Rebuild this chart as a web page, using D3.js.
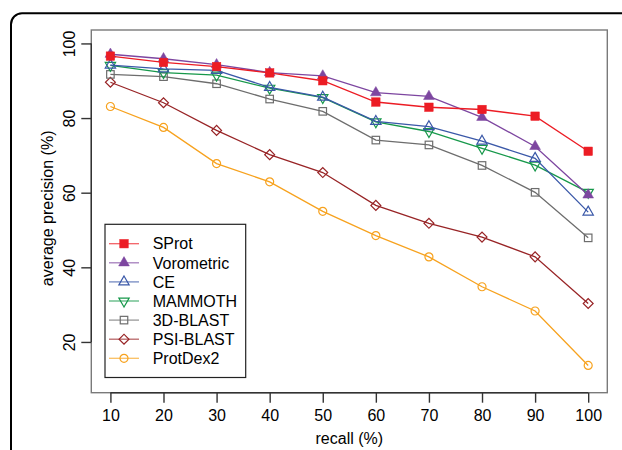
<!DOCTYPE html>
<html>
<head>
<meta charset="utf-8">
<script src="https://cdn.jsdelivr.net/npm/d3@7"></script>
<style>
  body { margin: 0; background: #fff; }
  svg { display: block; font-family: "Liberation Sans", Arial, sans-serif; }
</style>
</head>
<body>
<svg id="chart" width="622" height="450"></svg>
<script>
var recall = [10, 20, 30, 40, 50, 60, 70, 80, 90, 100];
var yTicks = [20, 40, 60, 80, 100];

var sprot      = [96.6, 94.9, 93.8, 92.1, 90.0, 84.3, 82.9, 82.3, 80.5, 71.1];
var vorometric = [97.1, 95.9, 94.3, 92.2, 91.3, 86.8, 85.8, 80.2, 72.4, 59.4];
var ce         = [94.2, 93.2, 92.8, 88.2, 85.6, 79.1, 77.7, 73.8, 69.2, 54.8];
var mammoth    = [94.1, 92.2, 91.5, 88.0, 85.5, 79.0, 76.4, 71.9, 67.4, 60.1];
var blast3d    = [91.7, 91.1, 89.2, 85.1, 81.8, 74.1, 72.8, 67.3, 60.1, 47.9];
var psiblast   = [89.6, 84.1, 76.7, 70.2, 65.4, 56.6, 51.8, 48.1, 42.8, 30.3];
var protdex2   = [83.1, 77.5, 67.8, 62.9, 55.0, 48.5, 42.8, 34.8, 28.3, 13.7];

var series = [
  {name: "SProt",      values: sprot,      color: "#ec1c24", shape: "square",   fill: true},
  {name: "Vorometric", values: vorometric, color: "#7d46a0", shape: "triUp",    fill: true},
  {name: "CE",         values: ce,         color: "#3a58a8", shape: "triUp",    fill: false},
  {name: "MAMMOTH",    values: mammoth,    color: "#16984a", shape: "triDown",  fill: false},
  {name: "3D-BLAST",   values: blast3d,    color: "#6d6d6d", shape: "square",   fill: false},
  {name: "PSI-BLAST",  values: psiblast,   color: "#982426", shape: "diamond",  fill: false},
  {name: "ProtDex2",   values: protdex2,   color: "#f7a21e", shape: "circle",   fill: false}
];

var svg = d3.select("#chart");

// outer rounded frame
svg.append("rect")
  .attr("x", 11).attr("y", 13.3)
  .attr("width", 700).attr("height", 600)
  .attr("rx", 11)
  .attr("fill", "none")
  .attr("stroke", "#000")
  .attr("stroke-width", 2);

var pLeft = 91.3, pRight = 607.3, pTop = 30, pBottom = 392.7;

var x = d3.scaleLinear().domain([6.4, 103.6]).range([pLeft, pRight]);
var y = d3.scaleLinear().domain([6.4, 103.6]).range([pBottom, pTop]);

// plot box
svg.append("rect")
  .attr("x", pLeft).attr("y", pTop)
  .attr("width", pRight - pLeft).attr("height", pBottom - pTop)
  .attr("fill", "none")
  .attr("stroke", "#7a7a7a")
  .attr("stroke-width", 1.4);

// x axis
var xAxis = svg.append("g")
  .attr("transform", "translate(0," + pBottom + ")")
  .call(d3.axisBottom(x).tickValues(recall).tickSize(10).tickPadding(7).tickFormat(d3.format("d")));
xAxis.select(".domain").remove();
xAxis.append("line")
  .attr("x1", x(recall[0])).attr("x2", x(recall[recall.length - 1]))
  .attr("stroke", "#333").attr("stroke-width", 1.4);
xAxis.selectAll("line").attr("stroke", "#333").attr("stroke-width", 1.4);
xAxis.selectAll("text").attr("fill", "#000").style("font-size", "16px").style("font-family", "Liberation Sans, Arial, sans-serif");

// y axis
var yAxis = svg.append("g")
  .attr("transform", "translate(" + pLeft + ",0)")
  .call(d3.axisLeft(y).tickValues(yTicks).tickSize(10).tickFormat(d3.format("d")));
yAxis.select(".domain").remove();
yAxis.append("line")
  .attr("y1", y(yTicks[0])).attr("y2", y(yTicks[yTicks.length - 1]))
  .attr("stroke", "#333").attr("stroke-width", 1.4);
yAxis.selectAll("line").attr("stroke", "#333").attr("stroke-width", 1.4);
yAxis.selectAll("text")
  .attr("x", 0).attr("y", -16.5).attr("dy", 0)
  .attr("transform", "rotate(-90)")
  .attr("text-anchor", "middle")
  .attr("fill", "#000")
  .style("font-size", "16px").style("font-family", "Liberation Sans, Arial, sans-serif");

// axis titles
svg.append("text")
  .attr("x", (pLeft + pRight) / 2).attr("y", 444)
  .attr("text-anchor", "middle")
  .style("font-size", "16px")
  .text("recall (%)");

svg.append("text")
  .attr("transform", "translate(53," + ((pTop + pBottom) / 2 - 3) + ") rotate(-90)")
  .attr("text-anchor", "middle")
  .style("font-size", "16px")
  .text("average precision (%)");

function marker(g, s) {
  var m;
  if (s.shape === "square") {
    var side = s.fill ? 8.5 : 7.5;
    m = g.append("rect").attr("x", -side / 2).attr("y", -side / 2).attr("width", side).attr("height", side);
  } else if (s.shape === "triUp") {
    m = g.append("path").attr("d", d3.symbol().type(d3.symbolTriangle).size(s.fill ? 50 : 46)());
  } else if (s.shape === "triDown") {
    m = g.append("path").attr("d", d3.symbol().type(d3.symbolTriangle).size(46)()).attr("transform", "rotate(180)");
  } else if (s.shape === "diamond") {
    m = g.append("rect").attr("x", -3.5).attr("y", -3.5).attr("width", 7).attr("height", 7).attr("transform", "rotate(45)");
  } else {
    m = g.append("circle").attr("r", 4);
  }
  m.attr("fill", s.fill ? s.color : "none")
    .attr("stroke", s.color)
    .attr("stroke-width", s.fill ? 0.5 : 1.2);
}

var line = d3.line()
  .x(function (d, i) { return x(recall[i]); })
  .y(function (d) { return y(d); });

// draw last series first so SProt ends on top
series.slice().reverse().forEach(function (s) {
  svg.append("path")
    .datum(s.values)
    .attr("fill", "none")
    .attr("stroke", s.color)
    .attr("stroke-width", 1.3)
    .attr("d", line);
  s.values.forEach(function (v, i) {
    var g = svg.append("g").attr("transform", "translate(" + x(recall[i]) + "," + y(v) + ")");
    marker(g, s);
  });
});

// legend
var legend = svg.append("g");
legend.append("rect")
  .attr("x", 105).attr("y", 224.3)
  .attr("width", 140.7).attr("height", 153.2)
  .attr("fill", "#fff")
  .attr("stroke", "#222")
  .attr("stroke-width", 1.2);

series.forEach(function (s, i) {
  var ly = 243.7 + i * 19.1;
  var g = legend.append("g").attr("transform", "translate(0," + ly + ")");
  g.append("line")
    .attr("x1", 109).attr("x2", 139)
    .attr("stroke", s.color)
    .attr("stroke-opacity", 0.7)
    .attr("stroke-width", 1.3);
  marker(g.append("g").attr("transform", "translate(124,0)"), s);
  g.append("text")
    .attr("x", 152.7).attr("y", 0).attr("dy", "0.36em")
    .style("font-size", "16px")
    .text(s.name);
});
</script>
</body>
</html>
